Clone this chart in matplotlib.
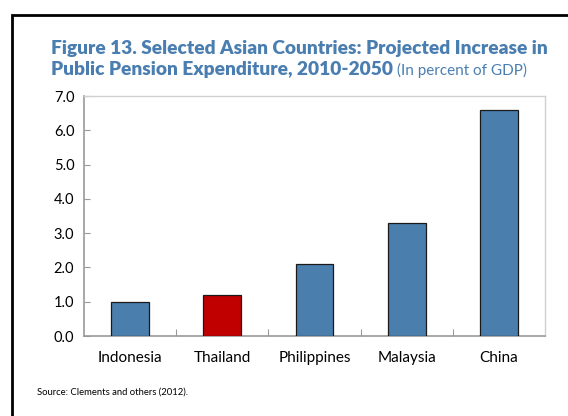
import matplotlib
matplotlib.use("Agg")
import matplotlib.pyplot as plt
from matplotlib.patches import Rectangle

countries = ["Indonesia", "Thailand", "Philippines", "Malaysia", "China"]
increase = [1.0, 1.2, 2.1, 3.3, 6.6]
bar_colors = ["#4A7EAD", "#C00000", "#4A7EAD", "#4A7EAD", "#4A7EAD"]
yticks = [0, 1, 2, 3, 4, 5, 6, 7]

title_color = "#4A7EB0"
plt.rcParams['font.family'] = ['Lato', 'DejaVu Sans']

fig = plt.figure(figsize=(5.68, 4.16), dpi=100)
ax = fig.add_axes([84 / 568, 1 - 336 / 416, (545 - 84) / 568, (336 - 96) / 416])

x = list(range(len(countries)))
ax.bar(x, increase, width=0.41, color=bar_colors, edgecolor="#1a1a1a", linewidth=0.9, zorder=3)

ax.set_xlim(-0.5, len(countries) - 0.5)
ax.set_ylim(0, 7)
ax.set_yticks(yticks)
ax.set_yticklabels(["%.1f" % v for v in yticks], fontsize=10.5)
ax.tick_params(axis="y", direction="in", length=4, color="#999999", pad=7)
# x ticks at category boundaries, labels centred under bars
ax.set_xticks([i + 0.5 for i in x[:-1]])
ax.set_xticklabels([])
ax.set_xticks(x, minor=True)
ax.set_xticklabels(countries, minor=True, fontsize=11)
ax.tick_params(axis="x", which="major", direction="in", length=5, color="#999999")
ax.tick_params(axis="x", which="minor", length=0, pad=11)
for s in ["left", "bottom"]:
    ax.spines[s].set_color("#999999")
    ax.spines[s].set_linewidth(1.2)
for s in ["top", "right"]:
    ax.spines[s].set_color("#d0d0d0")
    ax.spines[s].set_linewidth(1.0)

# outer frame
fig.patches.append(Rectangle((12 / 568, -0.1), 1.2, 1 - 15 / 416 + 0.1, transform=fig.transFigure,
                             fill=False, edgecolor="black", linewidth=2, clip_on=False))

fig.text(51 / 568, 1 - 54 / 416, "Figure 13. Selected Asian Countries: Projected Increase in",
         fontsize=13.8, fontweight="heavy", color=title_color, va="baseline")
t2 = fig.text(51 / 568, 1 - 75 / 416, "Public Pension Expenditure, 2010-2050",
              fontsize=13.8, fontweight="heavy", color=title_color, va="baseline")
fig.canvas.draw()
bb = t2.get_window_extent()
fig.text(bb.x1 / 568 + 4 / 568, 1 - 75 / 416, "(In percent of GDP)",
         fontsize=11, color=title_color, va="baseline")

fig.text(37 / 568, 1 - 392 / 416, "Source: Clements and others (2012).", fontsize=6.8, va="center")

fig.savefig("out.png", dpi=100)
